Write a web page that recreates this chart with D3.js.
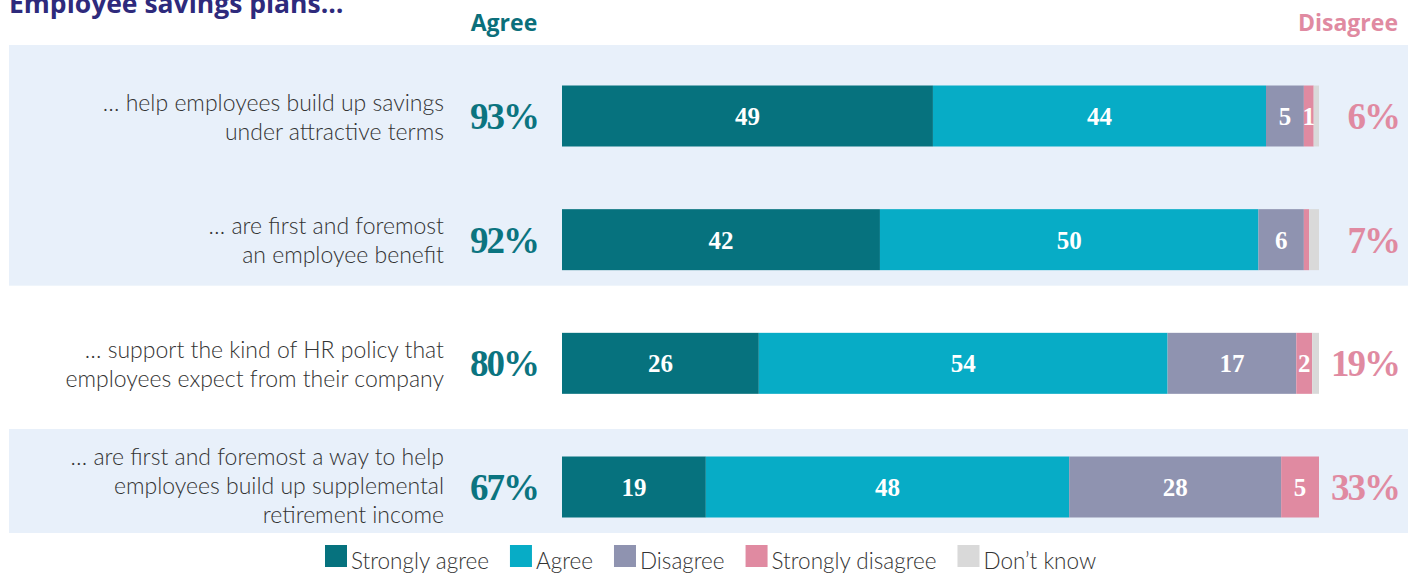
<!DOCTYPE html>
<html>
<head>
<meta charset="utf-8">
<script src="https://cdn.jsdelivr.net/npm/d3@7"></script>
<style>
  body { margin: 0; background: #fff; }
  svg { display: block; }
</style>
</head>
<body>
<div id="chart"></div>
<script>
// data
var categories = [
  ["… help employees build up savings", "under attractive terms"],
  ["… are first and foremost", "an employee benefit"],
  ["… support the kind of HR policy that", "employees expect from their company"],
  ["… are first and foremost a way to help", "employees build up supplemental", "retirement income"]
];
var stronglyAgree    = [49, 42, 26, 19];
var agree            = [44, 50, 54, 48];
var disagree         = [5, 6, 17, 28];
var stronglyDisagree = [1.3, 0.7, 2.1, 5];
var dontKnow         = [0.7, 1.3, 0.9, 0];
var agreeTotal       = [93, 92, 80, 67];
var disagreeTotal    = [6, 7, 19, 33];
var seriesNames = ["Strongly agree", "Agree", "Disagree", "Strongly disagree", "Don\u2019t know"];
var seriesColors = ["#06727e", "#07acc6", "#8f93b0", "#e08aa1", "#d9d9d9"];
var shadedRows = [[0, 1], [3, 3]];

var width = 1413, height = 573;
var serif = "'Liberation Serif', 'DejaVu Serif', serif";
var sans = "Lato, 'Source Sans Pro', 'Noto Sans', sans-serif";

var svg = d3.select("#chart").append("svg")
  .attr("width", width)
  .attr("height", height);

var rows = d3.range(categories.length);
var x = d3.scaleLinear().domain([0, 100]).range([562, 1319]);
var y = d3.scalePoint().domain(rows).range([116, 487]);
var barH = 61;

// light blue backgrounds
shadedRows.forEach(function (r, i) {
  var top = i === 0 ? 45 : y(r[0]) - 58;
  svg.append("rect")
    .attr("x", 9).attr("width", 1399)
    .attr("y", top)
    .attr("height", y(r[1]) + 46 - top)
    .attr("fill", "#e8f0fa");
});

// title (cut at top like the original) and headers
svg.append("text")
  .attr("x", 9).attr("y", 13)
  .attr("font-family", "'Open Sans', sans-serif")
  .attr("font-weight", 700)
  .attr("font-size", 26.5)
  .attr("fill", "#2e2a7c")
  .text("Employee savings plans\u2026");

svg.append("text")
  .attr("x", 504).attr("y", 31)
  .attr("text-anchor", "middle")
  .attr("font-family", "'Open Sans', sans-serif")
  .attr("font-weight", 700)
  .attr("font-size", 23)
  .attr("fill", "#0b6f7b")
  .text("Agree");

svg.append("text")
  .attr("x", 1398).attr("y", 31)
  .attr("text-anchor", "end")
  .attr("font-family", "'Open Sans', sans-serif")
  .attr("font-weight", 700)
  .attr("font-size", 23)
  .attr("fill", "#e08aa1")
  .text("Disagree");

// stacked data
var table = rows.map(function (i) {
  return {
    row: i,
    s0: stronglyAgree[i], s1: agree[i], s2: disagree[i], s3: stronglyDisagree[i], s4: dontKnow[i]
  };
});
var stack = d3.stack().keys(["s0", "s1", "s2", "s3", "s4"]);
var stacked = stack(table);

var layers = svg.selectAll("g.layer")
  .data(stacked)
  .join("g")
  .attr("class", "layer")
  .attr("fill", function (d, i) { return seriesColors[i]; });

layers.selectAll("rect")
  .data(function (d) { return d; })
  .join("rect")
  .attr("x", function (d) { return x(d[0]); })
  .attr("width", function (d) { return x(d[1]) - x(d[0]); })
  .attr("y", function (d) { return y(d.data.row) - barH / 2; })
  .attr("height", barH);

// value labels in bars
stacked.forEach(function (layer, k) {
  if (k === 4) return;
  svg.append("g").selectAll("text")
    .data(layer.filter(function (d) { return d[1] - d[0] >= 1; }))
    .join("text")
    .attr("x", function (d) { return (x(d[0]) + x(d[1])) / 2; })
    .attr("y", function (d) { return y(d.data.row) + 9; })
    .attr("text-anchor", "middle")
    .attr("font-family", serif)
    .attr("font-weight", 700)
    .attr("font-size", 25)
    .attr("fill", "#fff")
    .text(function (d) { return Math.round(d[1] - d[0]); });
});

// category labels
rows.forEach(function (i) {
  var lines = categories[i];
  var lh = 29;
  var y0 = y(i) - (lines.length - 1) * lh / 2 + (lines.length === 2 ? 2 : 0);
  var t = svg.append("text")
    .attr("text-anchor", "end")
    .attr("font-family", sans)
    .attr("font-weight", 300)
    .attr("font-size", 23)
    .attr("fill", "#333");
  lines.forEach(function (line, j) {
    t.append("tspan")
      .attr("x", 444)
      .attr("y", y0 + j * lh + 7)
      .text(line);
  });
});

// totals
svg.append("g").selectAll("text")
  .data(rows)
  .join("text")
  .attr("x", 504)
  .attr("y", function (i) { return y(i) + 13; })
  .attr("text-anchor", "middle")
  .attr("font-family", serif)
  .attr("font-weight", 700)
  .attr("font-size", 37)
  .attr("letter-spacing", -2)
  .attr("fill", "#0b7480")
  .text(function (i) { return agreeTotal[i] + "%"; });

svg.append("g").selectAll("text")
  .data(rows)
  .join("text")
  .attr("x", 1399)
  .attr("y", function (i) { return y(i) + 13; })
  .attr("text-anchor", "end")
  .attr("font-family", serif)
  .attr("font-weight", 700)
  .attr("font-size", 37)
  .attr("letter-spacing", -2)
  .attr("fill", "#e08aa1")
  .text(function (i) { return disagreeTotal[i] + "%"; });

// legend
var legend = svg.append("g");
var lx = 325;
seriesNames.forEach(function (name, i) {
  legend.append("rect")
    .attr("x", lx).attr("y", 545)
    .attr("width", 22).attr("height", 22)
    .attr("fill", seriesColors[i]);
  var t = legend.append("text")
    .attr("x", lx + 26).attr("y", 569)
    .attr("font-family", sans)
    .attr("font-weight", 300)
    .attr("font-size", 22.5)
    .attr("fill", "#333")
    .text(name);
  lx += 26 + t.node().getComputedTextLength() + 21;
});
</script>
</body>
</html>
